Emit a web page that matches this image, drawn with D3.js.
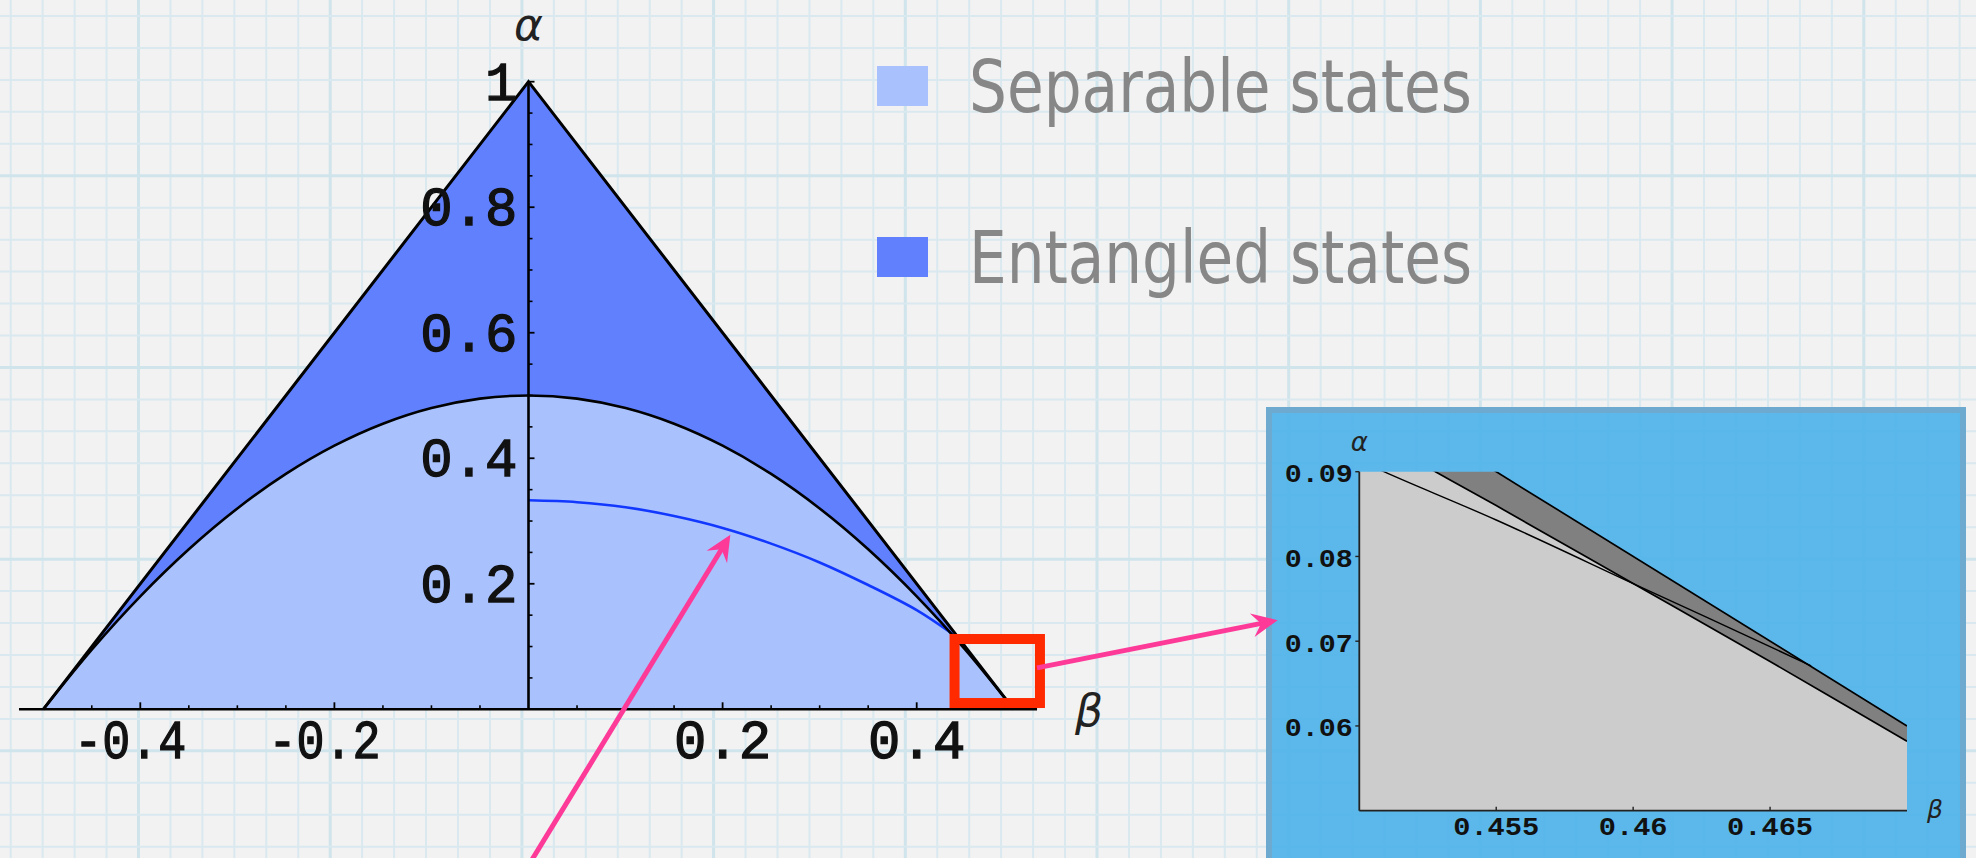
<!DOCTYPE html>
<html>
<head>
<meta charset="utf-8">
<script src="https://cdn.jsdelivr.net/npm/d3@7"></script>
<style>
  html, body { margin: 0; padding: 0; background: #f2f2f2; overflow: hidden; }
  svg { display: block; }
</style>
</head>
<body>
<svg id="chart" width="1976" height="858"></svg>
<script>
// ---- State-space regions in the (beta, alpha) plane ----
const stateTriangle = [[-0.5, 0], [0, 1], [0.5, 0]];

// boundary of the separable region (points along the arc)
const separableBoundary = [
  [-0.5, 0], [-0.45, 0.095], [-0.4, 0.18], [-0.35, 0.255], [-0.3, 0.32],
  [-0.25, 0.375], [-0.2, 0.42], [-0.15, 0.455], [-0.1, 0.48], [-0.05, 0.495],
  [0, 0.5], [0.05, 0.495], [0.1, 0.48], [0.15, 0.455], [0.2, 0.42],
  [0.25, 0.375], [0.3, 0.32], [0.35, 0.255], [0.4, 0.18], [0.45, 0.095], [0.5, 0]
];

// criterion curve drawn in blue
const criterionCurve = [
  [0, 0.333], [0.05, 0.330], [0.1, 0.322], [0.15, 0.308], [0.2, 0.289],
  [0.25, 0.264], [0.3, 0.234], [0.35, 0.198], [0.4, 0.158], [0.437, 0.120]
];

const xMajorTicks = [-0.4, -0.2, 0.2, 0.4];
const xMinorTicks = [-0.45, -0.35, -0.3, -0.25, -0.15, -0.1, -0.05, 0.05, 0.1, 0.15, 0.25, 0.3, 0.35, 0.45];
const yMajorTicks = [0.2, 0.4, 0.6, 0.8, 1];
const yMinorTicks = [0.05, 0.1, 0.15, 0.25, 0.3, 0.35, 0.45, 0.5, 0.55, 0.65, 0.7, 0.75, 0.85, 0.9, 0.95];

const legendLabels = ["Separable states", "Entangled states"];
const legendColors = ["#a9c2fe", "#6080fe"];

// highlighted window near the corner, and the two annotation arrows
const zoomWindowBeta = [0.439, 0.527];
const zoomWindowAlpha = [0.010, 0.112];
const arrowToInset = [[0.524, 0.066], [0.772, 0.142]];
const arrowToCurve = [[0.0015, -0.245], [0.208, 0.278]];

// ---- Magnified corner ----
const insetBetaDomain = [0.45, 0.47];
const insetAlphaDomain = [0.05, 0.09];
const insetEdge = [[0.45, 0.10], [0.47, 0.06]];
const insetBoundary = [[0.45, 0.095], [0.4525, 0.0905], [0.455, 0.086], [0.46, 0.0768], [0.465, 0.0676], [0.47, 0.0582]];
const insetCriterion = [[0.4495, 0.0922], [0.4509, 0.09], [0.455, 0.0843], [0.4602, 0.0765], [0.4635, 0.0716], [0.4665, 0.0671]];
const insetXTicks = [0.455, 0.46, 0.465];
const insetYTicks = [0.06, 0.07, 0.08, 0.09];

const svg = d3.select("#chart");
const W = 1976, H = 858;
const defs = svg.append("defs");

// ---- graph-paper backdrop ----
const paper = svg.append("g");
paper.append("rect").attr("width", W).attr("height", H).attr("fill", "#f2f2f2");
const cell = 31.95;
defs.append("filter").attr("id", "soft")
  .append("feGaussianBlur").attr("stdDeviation", 0.6);
const vLines = d3.range(10.7 - cell, W + cell, cell);
const hLines = d3.range(16 - cell, H + cell, cell);
const gridG = paper.append("g").attr("filter", "url(#soft)");
gridG.selectAll("line.v").data(vLines).join("line")
  .attr("x1", d => d).attr("x2", d => d).attr("y1", 0).attr("y2", H)
  .attr("stroke", (d, i) => (i % 6 === 5) ? "#d0e4ec" : "#d9e9ef")
  .attr("stroke-width", (d, i) => (i % 6 === 5) ? 3 : 2);
gridG.selectAll("line.h").data(hLines).join("line")
  .attr("y1", d => d).attr("y2", d => d).attr("x1", 0).attr("x2", W)
  .attr("stroke", (d, i) => (i % 6 === 0) ? "#d0e4ec" : "#d9e9ef")
  .attr("stroke-width", (d, i) => (i % 6 === 0) ? 3 : 2);

// ---- main plot ----
const x = d3.scaleLinear().domain([-0.5, 0.5]).range([43.25, 1013.75]);
const y = d3.scaleLinear().domain([0, 1]).range([709.3, 81.7]);

const plot = svg.append("g");
const line = d3.line().x(d => x(d[0])).y(d => y(d[1]));
const smooth = d3.line().x(d => x(d[0])).y(d => y(d[1])).curve(d3.curveCatmullRom.alpha(0.5));

plot.append("path")
  .attr("d", d3.line().x(d => x(d[0])).y(d => y(d[1])).curve(d3.curveLinearClosed)(stateTriangle))
  .attr("fill", legendColors[1]);
plot.append("path").datum(separableBoundary)
  .attr("d", d3.area().x(d => x(d[0])).y0(y(0)).y1(d => y(d[1])).curve(d3.curveCatmullRom.alpha(0.5)))
  .attr("fill", legendColors[0]);

plot.append("path").datum(criterionCurve).attr("d", smooth)
  .attr("fill", "none").attr("stroke", "#1238ff").attr("stroke-width", 2.6);

plot.append("path").datum(separableBoundary).attr("d", smooth)
  .attr("fill", "none").attr("stroke", "#000").attr("stroke-width", 2.6);
plot.append("path").attr("d", line(stateTriangle))
  .attr("fill", "none").attr("stroke", "#000").attr("stroke-width", 3).attr("stroke-linejoin", "miter");

// axes through the origin
const axisG = plot.append("g");
axisG.append("line")
  .attr("x1", x(-0.525)).attr("x2", x(0.524)).attr("y1", y(0)).attr("y2", y(0))
  .attr("stroke", "#000").attr("stroke-width", 2.5);
axisG.append("line")
  .attr("x1", x(0)).attr("x2", x(0)).attr("y1", y(0)).attr("y2", y(1))
  .attr("stroke", "#000").attr("stroke-width", 2.6);

axisG.selectAll("line.xmin").data(xMinorTicks).join("line")
  .attr("x1", d => x(d)).attr("x2", d => x(d)).attr("y1", y(0)).attr("y2", y(0) - 4)
  .attr("stroke", "#000").attr("stroke-width", 1.6);
axisG.selectAll("line.xmaj").data(xMajorTicks).join("line")
  .attr("x1", d => x(d)).attr("x2", d => x(d)).attr("y1", y(0)).attr("y2", y(0) - 7)
  .attr("stroke", "#000").attr("stroke-width", 1.8);
axisG.selectAll("line.ymin").data(yMinorTicks).join("line")
  .attr("x1", x(0)).attr("x2", x(0) + 4).attr("y1", d => y(d)).attr("y2", d => y(d))
  .attr("stroke", "#000").attr("stroke-width", 1.6);
axisG.selectAll("line.ymaj").data(yMajorTicks).join("line")
  .attr("x1", x(0)).attr("x2", x(0) + 6).attr("y1", d => y(d)).attr("y2", d => y(d))
  .attr("stroke", "#000").attr("stroke-width", 1.8);

const tickFmt = d => (d === 1 ? "1" : d.toFixed(1));
const monoFont = "'Liberation Mono', 'DejaVu Sans Mono', monospace";
axisG.selectAll("text.xl").data(xMajorTicks).join("text")
  .attr("x", d => x(d) + (d < 0 ? -10 : 0)).attr("y", y(0) + 49)
  .attr("text-anchor", "middle")
  .attr("font-family", monoFont).attr("font-size", 54)
  .attr("fill", "#111").attr("stroke", "#111").attr("stroke-width", 1.3)
  .attr("textLength", d => (d < 0 ? 112 : null)).attr("lengthAdjust", "spacingAndGlyphs")
  .text(tickFmt);
axisG.selectAll("text.yl").data(yMajorTicks).join("text")
  .attr("x", x(0) - 11).attr("y", d => y(d)).attr("dy", "0.33em")
  .attr("text-anchor", "end")
  .attr("font-family", monoFont).attr("font-size", 54)
  .attr("fill", "#111").attr("stroke", "#111").attr("stroke-width", 1.3)
  .text(tickFmt);

const symFont = "'DejaVu Sans', 'Open Sans', sans-serif";
svg.append("text").attr("x", x(0)).attr("y", 40).attr("text-anchor", "middle")
  .attr("font-family", symFont).attr("font-style", "italic").attr("font-weight", 300)
  .attr("font-size", 44).attr("fill", "#222").text("α");
svg.append("text").attr("x", 1089).attr("y", 726).attr("text-anchor", "middle")
  .attr("font-family", symFont).attr("font-style", "italic").attr("font-weight", 300)
  .attr("font-size", 44).attr("fill", "#222").text("β");

// ---- legend ----
const legend = svg.append("g");
const legendTop = [66, 237], legendBase = [112, 283];
legendLabels.forEach((lab, i) => {
  legend.append("rect").attr("x", 877).attr("y", legendTop[i]).attr("width", 51).attr("height", 40)
    .attr("fill", legendColors[i]);
  legend.append("text").attr("x", 969).attr("y", legendBase[i])
    .attr("font-family", "'Liberation Sans Narrow', 'DejaVu Sans Condensed', 'Open Sans', sans-serif")
    .attr("font-size", 73).attr("fill", "#878787")
    .attr("textLength", 503).attr("lengthAdjust", "spacingAndGlyphs")
    .text(lab);
});

// ---- inset panel ----
const panel = svg.append("g");
panel.append("rect").attr("x", 1269).attr("y", 410).attr("width", 694).attr("height", 470)
  .attr("fill", "#52b4ea").attr("fill-opacity", 0.94)
  .attr("stroke", "#6ea9cf").attr("stroke-width", 6);

const xi = d3.scaleLinear().domain(insetBetaDomain).range([1359.3, 1907]);
const yi = d3.scaleLinear().domain(insetAlphaDomain).range([810.7, 471.7]);
defs.append("clipPath").attr("id", "insetClip")
  .append("rect").attr("x", xi(0.45)).attr("y", yi(0.09))
  .attr("width", xi(0.47) - xi(0.45)).attr("height", yi(0.05) - yi(0.09));

const ig = panel.append("g").attr("clip-path", "url(#insetClip)");
const iline = d3.line().x(d => xi(d[0])).y(d => yi(d[1]));
const ismooth = d3.line().x(d => xi(d[0])).y(d => yi(d[1])).curve(d3.curveCatmullRom.alpha(0.5));

ig.append("path")
  .attr("d", d3.area().x(d => xi(d[0])).y0(yi(0.05)).y1(d => yi(d[1])).curve(d3.curveCatmullRom.alpha(0.5))(insetBoundary))
  .attr("fill", "#cccccc");
const darkBand = insetEdge.concat(insetBoundary.slice().reverse());
ig.append("path").attr("d", iline(darkBand) + "Z").attr("fill", "#808080");

ig.append("path").attr("d", iline(insetEdge)).attr("fill", "none").attr("stroke", "#000").attr("stroke-width", 1.7);
ig.append("path").attr("d", ismooth(insetBoundary)).attr("fill", "none").attr("stroke", "#000").attr("stroke-width", 1.7);
ig.append("path").attr("d", ismooth(insetCriterion)).attr("fill", "none").attr("stroke", "#000").attr("stroke-width", 1.4);

panel.append("line").attr("x1", xi(0.45)).attr("x2", xi(0.45)).attr("y1", yi(0.05)).attr("y2", yi(0.09))
  .attr("stroke", "#222").attr("stroke-width", 1.8);
panel.append("line").attr("x1", xi(0.45)).attr("x2", xi(0.47)).attr("y1", yi(0.05)).attr("y2", yi(0.05))
  .attr("stroke", "#222").attr("stroke-width", 1.8);
panel.selectAll("line.ixt").data(insetXTicks).join("line")
  .attr("x1", d => xi(d)).attr("x2", d => xi(d)).attr("y1", yi(0.05)).attr("y2", yi(0.05) - 4)
  .attr("stroke", "#222").attr("stroke-width", 1.4);
panel.selectAll("line.iyt").data(insetYTicks).join("line")
  .attr("x1", xi(0.45) - 4).attr("x2", xi(0.45)).attr("y1", d => yi(d)).attr("y2", d => yi(d))
  .attr("stroke", "#222").attr("stroke-width", 1.4);
panel.selectAll("text.ixl").data(insetXTicks).join("text")
  .attr("x", d => xi(d)).attr("y", 835).attr("text-anchor", "middle")
  .attr("font-family", monoFont).attr("font-weight", "bold").attr("font-size", 26)
  .attr("textLength", d => String(d).length * 17.2).attr("lengthAdjust", "spacingAndGlyphs")
  .attr("fill", "#111").text(d => String(d));
panel.selectAll("text.iyl").data(insetYTicks).join("text")
  .attr("x", xi(0.45) - 6.5).attr("y", d => yi(d)).attr("dy", "0.4em").attr("text-anchor", "end")
  .attr("font-family", monoFont).attr("font-weight", "bold").attr("font-size", 26)
  .attr("textLength", d => String(d).length * 17).attr("lengthAdjust", "spacingAndGlyphs")
  .attr("fill", "#111").text(d => String(d));
panel.append("text").attr("x", xi(0.45)).attr("y", 451).attr("text-anchor", "middle")
  .attr("font-family", symFont).attr("font-style", "italic").attr("font-weight", 300)
  .attr("font-size", 26).attr("fill", "#222").text("α");
panel.append("text").attr("x", 1935).attr("y", 818).attr("text-anchor", "middle")
  .attr("font-family", symFont).attr("font-style", "italic").attr("font-weight", 300)
  .attr("font-size", 25).attr("fill", "#222").text("β");

// ---- annotations ----
const notes = svg.append("g");
notes.append("rect")
  .attr("x", x(zoomWindowBeta[0])).attr("y", y(zoomWindowAlpha[1]))
  .attr("width", x(zoomWindowBeta[1]) - x(zoomWindowBeta[0]))
  .attr("height", y(zoomWindowAlpha[0]) - y(zoomWindowAlpha[1]))
  .attr("fill", "none").attr("stroke", "#ff2a00").attr("stroke-width", 10);

function arrow(pts) {
  const [x0, y0] = [x(pts[0][0]), y(pts[0][1])];
  const [x1, y1] = [x(pts[1][0]), y(pts[1][1])];
  const ang = Math.atan2(y1 - y0, x1 - x0);
  const len = Math.hypot(x1 - x0, y1 - y0);
  const g = notes.append("g").attr("transform", `translate(${x0},${y0}) rotate(${ang * 180 / Math.PI})`);
  g.append("line").attr("x1", 0).attr("y1", 0).attr("x2", len - 14).attr("y2", 0)
    .attr("stroke", "#fd3a98").attr("stroke-width", 5);
  g.append("path")
    .attr("d", `M${len},0 L${len - 26},-12 L${len - 17},0 L${len - 26},12 Z`)
    .attr("fill", "#fd3a98");
}
arrow(arrowToInset);
arrow(arrowToCurve);
</script>
</body>
</html>
